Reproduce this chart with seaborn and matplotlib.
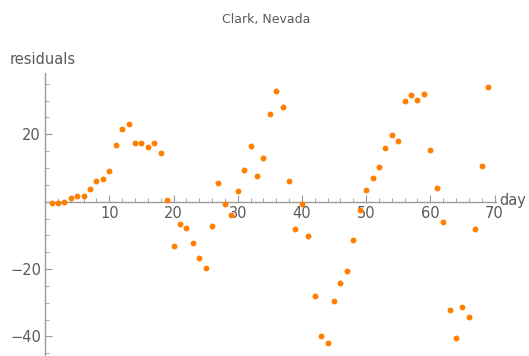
import numpy as np
import pandas as pd
import seaborn as sns

from matplotlib import pyplot as plt
from matplotlib.ticker import MultipleLocator

# residuals per day
days = list(range(1, 70))
residuals = [
    -0.5, -0.3, -0.2, 1.0, 1.7, 1.8, 3.9, 6.0, 6.7, 9.2,
    16.7, 21.6, 23.1, 17.3, 17.5, 16.3, 17.5, 14.4, 0.4, -13.1,
    -6.6, -7.9, -12.3, -16.8, -19.7, -7.1, 5.6, -0.8, -3.9, 3.3,
    9.4, 16.5, 7.5, 13.1, 26.0, 32.8, 28.0, 6.1, -8.1, -0.8,
    -10.3, -28.0, -40.0, -41.8, -29.6, -24.1, -20.7, -11.5, -2.4, 3.4,
    7.0, 10.3, 15.9, 19.7, 18.0, 29.8, 31.6, 30.1, 31.9, 15.3,
    4.1, -6.0, -32.0, -40.5, -31.2, -34.2, -8.1, 10.5, 34.1,
]
x_ticks = [10, 20, 30, 40, 50, 60, 70]
y_ticks = [-40, -20, 20]

df = pd.DataFrame({'day': days, 'residuals': residuals})

sns.set_style('white')
plt.rcParams['font.family'] = ['DejaVu Sans']

axis_grey = '#999999'
text_grey = '#5a5a5a'

fig = plt.figure(figsize=(5.29, 3.56), dpi=100)
ax = fig.add_axes([45.1 / 529, 0.0, 450.7 / 529, 283.0 / 356])

sns.scatterplot(data=df, x='day', y='residuals', ax=ax, color='#ff8000',
                s=18, linewidth=0, zorder=2, clip_on=False)

ax.set_xlim(0, 70.2)
ax.set_ylim(-45.8, 38.2)

# Achsen wie bei Mathematica: durch den Ursprung
ax.spines['left'].set_position(('data', 0))
ax.spines['bottom'].set_position(('data', 0))
ax.spines['top'].set_visible(False)
ax.spines['right'].set_visible(False)
for s in ['left', 'bottom']:
    ax.spines[s].set_color(axis_grey)
    ax.spines[s].set_linewidth(1.0)
    ax.spines[s].set_zorder(1)

ax.set_xticks(x_ticks)
ax.set_yticks(y_ticks)
ax.xaxis.set_minor_locator(MultipleLocator(2))
ax.yaxis.set_minor_locator(MultipleLocator(5))
ax.tick_params(which='both', bottom=True, left=True, top=False, right=False,
               direction='in', colors=axis_grey, labelcolor=text_grey,
               labelsize=10.5, pad=3)
ax.tick_params(which='major', length=5, width=0.8)
ax.tick_params(which='minor', length=3, width=0.6)
for lab in ax.get_xticklabels() + ax.get_yticklabels():
    lab.set_zorder(3)

ax.set_xlabel('')
ax.set_ylabel('')
fig.text(10 / 529, 1 - 60 / 356, 'residuals', color=text_grey,
         fontsize=10.5, va='center', ha='left')
fig.text(499 / 529, 1 - 201 / 356, 'day', color=text_grey,
         fontsize=10.5, va='center', ha='left')
fig.text(266 / 529, 1 - 19 / 356, 'Clark, Nevada', color=text_grey,
         fontsize=9, va='center', ha='center')

fig.savefig('out.png', dpi=100)
